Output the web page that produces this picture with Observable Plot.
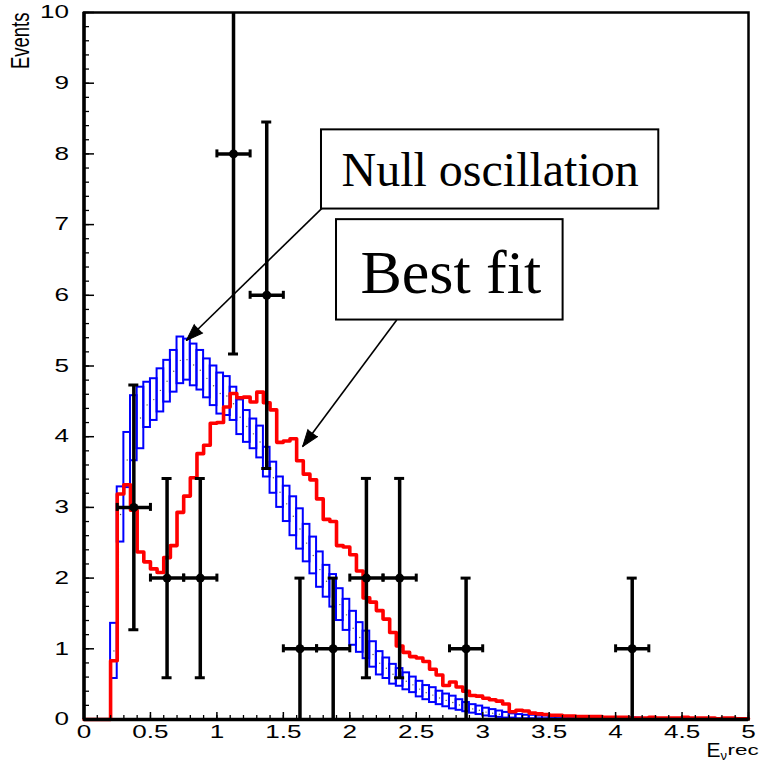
<!DOCTYPE html>
<html><head><meta charset="utf-8">
<script src="https://cdn.jsdelivr.net/npm/d3@7"></script>
<script src="https://cdn.jsdelivr.net/npm/@observablehq/plot@0.6"></script>
<style>html,body{margin:0;padding:0;background:#fff;overflow:hidden}svg{display:block}</style>
</head><body><div id="chart"></div>
<script>
// ---------- DATA ----------
const binWidth = 0.05;
const binStart = d3.range(96).map(i => +(0.2 + binWidth * i).toFixed(2));
// Null oscillation expectation (blue boxes): lower and upper edge per bin
const blueLo = [0.58,2.51,3.28,3.66,3.83,4.13,4.23,4.35,4.49,4.63,4.75,4.80,4.72,4.66,4.55,4.44,
  4.32,4.30,4.23,4.03,3.92,3.83,3.70,3.43,3.20,3.00,2.80,2.60,2.41,2.23,2.06,1.87,1.73,1.59,
  1.40,1.26,1.05,0.95,0.86,0.74,0.63,0.58,0.50,0.47,0.42,0.38,0.32,0.28,0.24,0.21,0.18,0.15,
  0.13,0.11,0.09,0.07,0.05,0.04,0.03,0.02,0.02,0.01,0.01,0.01,0.01,0.01,0.01,0.01,0.01,
  0,0,0,0,0,0,0,0,0,0,0,0,0,0,0,0,0,0,0,0,0,0,0,0,0,0,0];
const blueHi = [1.36,3.29,4.06,4.58,4.70,4.77,4.82,4.96,5.08,5.22,5.41,5.38,5.31,5.22,5.10,5.00,
  4.90,4.85,4.70,4.52,4.37,4.25,4.15,3.85,3.64,3.43,3.30,3.15,2.98,2.76,2.58,2.37,2.18,2.05,
  1.85,1.70,1.53,1.37,1.25,1.10,0.96,0.87,0.78,0.72,0.66,0.60,0.54,0.48,0.45,0.40,0.36,0.33,
  0.28,0.24,0.21,0.19,0.16,0.14,0.12,0.10,0.08,0.07,0.06,0.06,0.05,0.05,0.04,0.04,0.04,
  0.03,0.03,0.03,0.03,0.03,0.02,0.02,0.02,0.02,0.02,0.02,
  0.01,0.01,0.01,0.01,0.01,0.01,0.01,0.01,0.01,0.01,0.01,0.01,0.01,0.01,0.01,0.01];
// Best fit expectation (red histogram)
const bestFit = [0.83,3.19,3.32,2.96,2.37,2.23,2.13,2.08,2.29,2.46,2.93,3.16,3.42,3.76,3.88,4.19,
  4.20,4.42,4.61,4.55,4.56,4.49,4.63,4.48,4.38,3.92,3.94,3.97,3.66,3.47,3.39,3.12,2.83,2.80,
  2.46,2.44,2.33,2.10,1.72,1.66,1.54,1.42,1.23,1.04,0.95,0.89,0.87,0.82,0.71,0.63,0.48,0.53,
  0.46,0.40,0.34,0.33,0.30,0.28,0.26,0.22,0.11,0.13,0.12,0.09,0.08,0.07,0.06,0.06,0.05,
  0.05,0.04,0.04,0.04,0.04,0.03,0.03,0.03,0.03,0.02,0.02,
  0.02,0.03,0.02,0.02,0.02,0.02,0.03,0.02,0.02,0.02,0.02,0.01,0.02,0.02,0.01,0.01];
// Observed events
const dataX = [0.375,0.625,0.875,1.125,1.375,1.625,1.875,2.125,2.375,2.875,4.125];
const dataN = [3,2,2,8,6,1,1,2,2,1,1];
const dataLo = [1.27,0.59,0.59,5.17,3.55,0,0,0.59,0.59,0,0];
const dataHi = [4.73,3.41,3.41,10.83,8.45,2,2,3.41,3.41,2,2];
const dataHalfWidth = 0.125;
// Ticks
const xMajor = [0,0.5,1,1.5,2,2.5,3,3.5,4,4.5,5];
const xMinor = d3.range(51).map(i => +(i*0.1).toFixed(1));
const yMajor = [0,1,2,3,4,5,6,7,8,9,10];
const yMinor = d3.range(51).map(i => +(i*0.2).toFixed(1));
const xTickLabels = ["0","0.5","1","1.5","2","2.5","3","3.5","4","4.5","5"];
const yTickLabels = ["0","1","2","3","4","5","6","7","8","9","10"];
// Annotations
const annBoxes = [
  {label:"Null oscillation", x1:1.787, x2:4.325, y1:7.22, y2:8.34, tx:3.056, ty:7.765, size:48},
  {label:"Best fit", x1:1.90, x2:3.605, y1:5.65, y2:7.07, tx:2.76, ty:6.315, size:62}
];
const annArrows = [
  {x1:1.79, y1:7.23, x2:0.77, y2:5.36},
  {x1:2.353, y1:5.65, x2:1.645, y2:3.86}
];

// ---------- LAYOUT ----------
const W = 760, H = 762, mL = 83.5, mR = 12, mT = 12, mB = 43;
const xs = Plot.scale({x: {domain: [0, 5], range: [mL, W - mR]}});
const ys = Plot.scale({y: {domain: [0, 10], range: [H - mB, mT]}});
const pxX = 5 / (W - mL - mR), pxY = 10 / (H - mT - mB);

const bins = binStart.map((x, i) => ({x1: x, x2: +(x + binWidth).toFixed(2), xc: x + binWidth/2,
  lo: blueLo[i], hi: blueHi[i], red: bestFit[i]}));
const redPts = [{x: 0, y: 0}, ...bins.map(b => ({x: b.x1, y: b.red})), {x: 5, y: bestFit[bestFit.length-1]}];
const pts = dataX.map((x, i) => ({x, n: dataN[i], lo: dataLo[i], hi: dataHi[i]}));
const arrows = annArrows.map(a => {
  const dx = xs.apply(a.x2) - xs.apply(a.x1), dy = ys.apply(a.y2) - ys.apply(a.y1);
  return {...a, angle: Math.atan2(dx, -dy) * 180 / Math.PI};
});

const sans = "'Liberation Sans', Arial, Helvetica, sans-serif";
const serif = "'Liberation Serif', 'Times New Roman', serif";
const capX = 5 * pxX, capY = 4 * pxY;
// horizontal stretch of the axis lettering, keyed by font size
const stretchBySize = {"18": 1.45, "18.5": 1.35, "14": 1.6};

const plot = Plot.plot({
  width: W, height: H, marginLeft: mL, marginRight: mR, marginTop: mT, marginBottom: mB,
  x: {domain: [0, 5], axis: null},
  y: {domain: [0, 10], axis: null},
  style: {background: "#fff", overflow: "visible"},
  marks: [
    // blue boxes
    Plot.rect(bins, {x1: "x1", x2: "x2", y1: "lo", y2: "hi", fill: "none", stroke: "#0000ff", strokeWidth: 2}),
    Plot.dot(bins.filter(b => b.hi > 0.1), {x: "xc", y: d => (d.lo + d.hi)/2, r: 0.7, fill: "#555", stroke: "none"}),
    // red best fit
    Plot.line(redPts, {x: "x", y: "y", curve: "step-after", stroke: "#ff0000", strokeWidth: 3.6}),
    // data
    Plot.ruleX(pts, {x: "x", y1: "lo", y2: "hi", stroke: "black", strokeWidth: 3.5, clip: true}),
    Plot.ruleY(pts, {y: "n", x1: d => d.x - dataHalfWidth, x2: d => d.x + dataHalfWidth, stroke: "black", strokeWidth: 3.5}),
    Plot.ruleY(pts, {y: "lo", x1: d => d.x - capX, x2: d => d.x + capX, stroke: "black", strokeWidth: 3, clip: true}),
    Plot.ruleY(pts, {y: "hi", x1: d => d.x - capX, x2: d => d.x + capX, stroke: "black", strokeWidth: 3, clip: true}),
    Plot.ruleX(pts, {x: d => d.x - dataHalfWidth, y1: d => d.n - capY, y2: d => d.n + capY, stroke: "black", strokeWidth: 3}),
    Plot.ruleX(pts, {x: d => d.x + dataHalfWidth, y1: d => d.n - capY, y2: d => d.n + capY, stroke: "black", strokeWidth: 3}),
    Plot.dot(pts, {x: "x", y: "n", r: 4.5, fill: "black", stroke: "none"}),
    // ticks (inside)
    Plot.ruleY(yMinor, {y: d => d, x1: 0, x2: 5.5 * pxX, stroke: "black", strokeWidth: 1.3}),
    Plot.ruleY(yMajor, {y: d => d, x1: 0, x2: 10.5 * pxX, stroke: "black", strokeWidth: 1.5}),
    Plot.ruleX(xMinor, {x: d => d, y1: 0, y2: 4 * pxY, stroke: "black", strokeWidth: 1.3}),
    Plot.ruleX(xMajor, {x: d => d, y1: 0, y2: 7 * pxY, stroke: "black", strokeWidth: 1.5}),
    // frame
    Plot.frame({stroke: "black", strokeWidth: 2.5}),
    Plot.ruleX([0], {stroke: "black", strokeWidth: 3.5}),
    Plot.ruleY([0], {stroke: "black", strokeWidth: 3.5}),
    // tick labels
    Plot.text(xMajor, {x: d => d, y: 0, text: (d, i) => xTickLabels[i], dy: 13, fontSize: 18, fontFamily: sans,
      lineAnchor: "middle", textAnchor: "middle", fill: "black"}),
    Plot.text(yMajor, {x: 0, y: d => d, text: (d, i) => yTickLabels[i], dx: -15, fontSize: 18, fontFamily: sans,
      lineAnchor: "middle", textAnchor: "end", fill: "black"}),
    // axis titles
    Plot.text(["Events"], {frameAnchor: "top-left", dx: -63.5, dy: 0, rotate: -90, textAnchor: "end",
      lineAnchor: "middle", fontSize: 18.5, fontFamily: sans, fill: "black"}),
    Plot.text(["E"], {frameAnchor: "bottom-left", dx: 622.5, dy: 31, textAnchor: "start", lineAnchor: "middle",
      fontSize: 21, fontFamily: sans, fill: "black"}),
    Plot.text(["ν"], {frameAnchor: "bottom-left", dx: 636.5, dy: 36, textAnchor: "start", lineAnchor: "middle",
      fontSize: 13, fontFamily: sans, fill: "black"}),
    Plot.text(["rec"], {frameAnchor: "bottom-left", dx: 643.5, dy: 31, textAnchor: "start", lineAnchor: "middle",
      fontSize: 14, fontFamily: sans, fill: "black"}),
    // annotations
    Plot.link(arrows, {x1: "x1", y1: "y1", x2: "x2", y2: "y2", stroke: "black", strokeWidth: 1.6}),
    Plot.vector(arrows, {x: "x2", y: "y2", rotate: "angle", length: 17, r: 6, shape: "spike", anchor: "end",
      fill: "black", stroke: "black", strokeWidth: 1}),
    Plot.rect(annBoxes, {x1: "x1", x2: "x2", y1: "y1", y2: "y2", fill: "white", stroke: "black", strokeWidth: 2}),
    Plot.text(annBoxes, {x: "tx", y: "ty", text: "label", fontSize: d => d.size, fontFamily: serif,
      lineAnchor: "middle", textAnchor: "middle", fill: "black"})
  ]
});

// horizontally stretched axis lettering, as in the reference
plot.querySelectorAll("g").forEach(g => {
  const fs = g.getAttribute("font-size");
  const s = fs != null ? stretchBySize[String(parseFloat(fs))] : undefined;
  if (!s) return;
  g.querySelectorAll(":scope > text").forEach(t => {
    const tr = t.getAttribute("transform");
    if (tr && /^translate\([^)]*\)/.test(tr)) {
      t.setAttribute("transform", tr.replace(/^(translate\([^)]*\))/, `$1 scale(${s},1)`));
    } else {
      const x = +(t.getAttribute("x") || 0), y = +(t.getAttribute("y") || 0);
      t.setAttribute("transform", `translate(${x},${y}) scale(${s},1) translate(${-x},${-y})` + (tr ? " " + tr : ""));
    }
  });
});
document.getElementById("chart").appendChild(plot);
</script>
</body></html>
